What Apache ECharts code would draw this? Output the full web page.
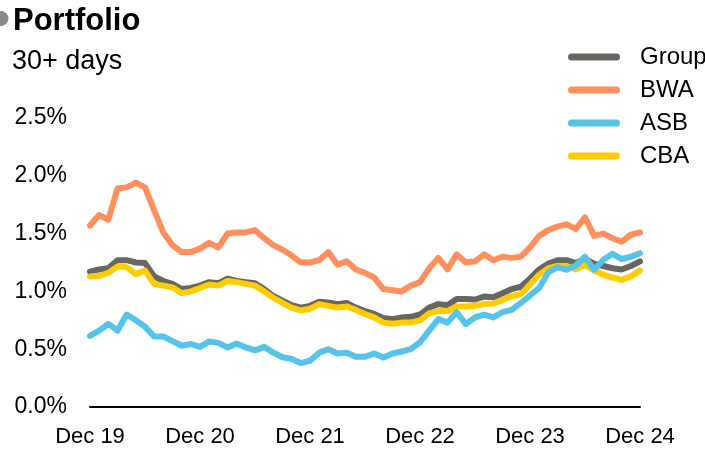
<!DOCTYPE html>
<html>
<head>
<meta charset="utf-8">
<script src="https://cdn.jsdelivr.net/npm/echarts@6/dist/echarts.min.js"></script>
<style>
  html, body { margin: 0; padding: 0; background: #ffffff; }
  #chart { width: 705px; height: 467px; }
</style>
</head>
<body>
<div id="chart"></div>
<script>
// ---- Data (monthly, Dec 19 .. Dec 24) ----
var categories = [
  'Dec 19','Jan 20','Feb 20','Mar 20','Apr 20','May 20','Jun 20','Jul 20','Aug 20','Sep 20','Oct 20','Nov 20',
  'Dec 20','Jan 21','Feb 21','Mar 21','Apr 21','May 21','Jun 21','Jul 21','Aug 21','Sep 21','Oct 21','Nov 21',
  'Dec 21','Jan 22','Feb 22','Mar 22','Apr 22','May 22','Jun 22','Jul 22','Aug 22','Sep 22','Oct 22','Nov 22',
  'Dec 22','Jan 23','Feb 23','Mar 23','Apr 23','May 23','Jun 23','Jul 23','Aug 23','Sep 23','Oct 23','Nov 23',
  'Dec 23','Jan 24','Feb 24','Mar 24','Apr 24','May 24','Jun 24','Jul 24','Aug 24','Sep 24','Oct 24','Nov 24',
  'Dec 24'
];
var xTickLabels = ['Dec 19','Dec 20','Dec 21','Dec 22','Dec 23','Dec 24'];
var yTicks = [0, 0.5, 1.0, 1.5, 2.0, 2.5];

var groupValues = [
  1.17, 1.19, 1.20, 1.27, 1.27, 1.25, 1.245, 1.13, 1.09, 1.065, 1.02, 1.03,
  1.05, 1.08, 1.07, 1.11, 1.09, 1.08, 1.07, 1.02, 0.96, 0.92, 0.88, 0.86,
  0.875, 0.91, 0.905, 0.89, 0.90, 0.86, 0.83, 0.805, 0.77, 0.76, 0.775, 0.78,
  0.80, 0.86, 0.89, 0.88, 0.935, 0.935, 0.93, 0.955, 0.95, 0.985, 1.02, 1.04,
  1.11, 1.19, 1.24, 1.27, 1.27, 1.245, 1.28, 1.24, 1.22, 1.20, 1.19, 1.22,
  1.26
];
var bwaValues = [
  1.57, 1.66, 1.62, 1.89, 1.90, 1.94, 1.90, 1.70, 1.51, 1.40, 1.34, 1.34,
  1.37, 1.42, 1.38, 1.50, 1.51, 1.51, 1.53, 1.46, 1.40, 1.36, 1.31, 1.25,
  1.25, 1.27, 1.34, 1.23, 1.26, 1.19, 1.16, 1.12, 1.02, 1.01, 1.00, 1.05,
  1.08, 1.20, 1.29, 1.19, 1.32, 1.25, 1.26, 1.32, 1.27, 1.30, 1.29, 1.30,
  1.38, 1.48, 1.53, 1.56, 1.58, 1.54, 1.64, 1.48, 1.50, 1.46, 1.43, 1.49,
  1.51
];
var asbValues = [
  0.615, 0.66, 0.72, 0.66, 0.80, 0.75, 0.695, 0.61, 0.61, 0.57, 0.53, 0.545,
  0.52, 0.567, 0.555, 0.515, 0.55, 0.515, 0.49, 0.52, 0.47, 0.43, 0.415, 0.38,
  0.40, 0.47, 0.50, 0.463, 0.47, 0.434, 0.434, 0.463, 0.428, 0.463, 0.48, 0.50,
  0.56, 0.66, 0.76, 0.73, 0.82, 0.717, 0.775, 0.80, 0.775, 0.82, 0.84, 0.90,
  0.965, 1.03, 1.166, 1.21, 1.187, 1.224, 1.30, 1.187, 1.273, 1.325, 1.28, 1.30,
  1.33
];
var cbaValues = [
  1.13, 1.135, 1.16, 1.215, 1.21, 1.15, 1.18, 1.065, 1.05, 1.035, 0.985, 1.00,
  1.03, 1.06, 1.05, 1.09, 1.08, 1.065, 1.05, 1.00, 0.945, 0.90, 0.86, 0.835,
  0.85, 0.89, 0.875, 0.86, 0.87, 0.84, 0.805, 0.775, 0.73, 0.72, 0.73, 0.73,
  0.75, 0.81, 0.83, 0.83, 0.87, 0.87, 0.875, 0.89, 0.895, 0.925, 0.96, 0.975,
  1.06, 1.145, 1.20, 1.22, 1.22, 1.19, 1.23, 1.18, 1.145, 1.12, 1.10, 1.13,
  1.18
];

var FONT = '"Liberation Sans", Arial, sans-serif';
var COLORS = { Group: '#676762', BWA: '#FF8F5C', ASB: '#55C3EA', CBA: '#FFCC00' };
var capsule = 'path://M3.5,0 H48.5 A3.5,3.5 0 0 1 48.5,7 H3.5 A3.5,3.5 0 0 1 3.5,0 Z';

function lineSeries(name, values) {
  return {
    name: name,
    type: 'line',
    data: values,
    showSymbol: false,
    symbol: 'none',
    smooth: false,
    lineStyle: { color: COLORS[name], width: 6, join: 'round', cap: 'round' },
    itemStyle: { color: COLORS[name] },
    emphasis: { disabled: true },
    animation: false
  };
}

var chart = echarts.init(document.getElementById('chart'), null, { renderer: 'canvas' });
chart.setOption({
  animation: false,
  backgroundColor: '#ffffff',
  textStyle: { fontFamily: FONT },
  title: [
    { text: 'Portfolio', left: 8, top: 1,
      textStyle: { fontFamily: FONT, fontSize: 31, fontWeight: 'bold', color: '#000000' } },
    { text: '30+ days', left: 7, top: 43,
      textStyle: { fontFamily: FONT, fontSize: 27, fontWeight: 'normal', color: '#000000' } }
  ],
  graphic: [
    { type: 'circle', shape: { cx: 1, cy: 18.5, r: 7.5 }, style: { fill: '#8a8a8a' }, silent: true }
  ],
  legend: {
    orient: 'vertical',
    left: 563,
    top: 40,
    data: ['Group', 'BWA', 'ASB', 'CBA'],
    icon: capsule,
    itemWidth: 52,
    itemHeight: 7,
    itemGap: 9,
    selectedMode: false,
    textStyle: { fontFamily: FONT, fontSize: 24, color: '#000000', lineHeight: 24, padding: [0, 0, 0, 15] }
  },
  grid: { left: 90, right: 65, top: 118, bottom: 60, containLabel: false },
  xAxis: {
    type: 'category',
    data: categories,
    boundaryGap: false,
    axisLine: { show: true, lineStyle: { color: '#000000', width: 2 } },
    axisTick: { show: false },
    splitLine: { show: false },
    axisLabel: {
      interval: function (idx, value) { return xTickLabels.indexOf(value) >= 0; },
      margin: 19,
      fontFamily: FONT,
      fontSize: 22,
      color: '#000000'
    }
  },
  yAxis: {
    type: 'value',
    min: yTicks[0],
    max: yTicks[yTicks.length - 1],
    interval: 0.5,
    axisLine: { show: false },
    axisTick: { show: false },
    splitLine: { show: false },
    axisLabel: {
      margin: 23,
      fontFamily: FONT,
      fontSize: 23,
      color: '#000000',
      formatter: function (v) { return v.toFixed(1) + '%'; }
    }
  },
  series: [
    lineSeries('Group', groupValues),
    lineSeries('BWA', bwaValues),
    lineSeries('CBA', cbaValues),
    lineSeries('ASB', asbValues)
  ]
});
</script>
</body>
</html>
